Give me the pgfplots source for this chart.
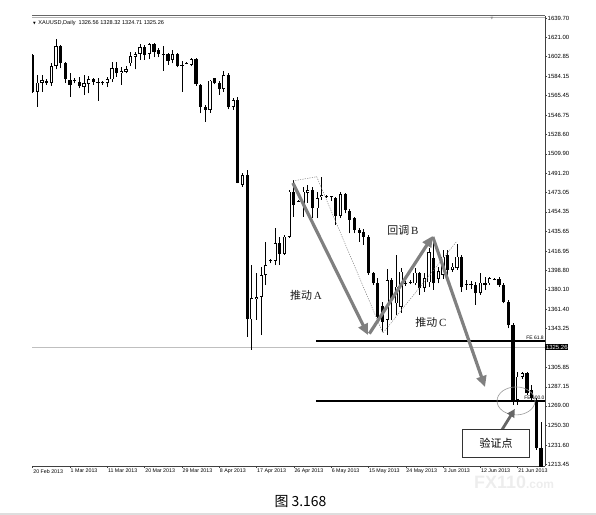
\documentclass[border=0pt]{standalone}
\usepackage{fontspec}
\setmainfont{Liberation Sans}
\newfontfamily\cjk{Noto Sans CJK SC}
\newfontfamily\lserif{Liberation Serif}
\newfontfamily\dejavu{DejaVu Sans}
\usepackage{pgfplots}
\usepackage{pgfplotstable}
\pgfplotsset{compat=1.18}
\usetikzlibrary{arrows.meta}

\definecolor{arrowgray}{HTML}{808080}
\definecolor{axisgray}{HTML}{404040}

% XAUUSD daily candles: bar index, open, high, low, close
\pgfplotstableread{
i o h l c
1 1604.3 1605.0 1568.0 1569.0
2 1569.3 1585.2 1554.9 1577.9
3 1577.9 1585.2 1569.3 1580.4
4 1579.5 1581.1 1575.7 1577.3
5 1577.3 1596.4 1574.7 1593.8
6 1593.8 1619.3 1590.7 1612.9
7 1612.9 1613.9 1591.6 1596.4
8 1596.4 1597.5 1577.9 1581.1
9 1580.4 1586.8 1564.5 1575.7
10 1580.0 1582.0 1577.3 1579.5
11 1578.8 1583.6 1572.5 1574.7
12 1574.0 1585.2 1566.1 1577.3
13 1576.6 1584.3 1567.7 1581.1
14 1581.1 1582.0 1575.7 1578.8
15 1578.4 1582.6 1560.7 1578.2
16 1577.9 1579.8 1575.7 1578.1
17 1577.3 1583.6 1574.0 1581.1
18 1581.1 1597.4 1578.8 1591.6
19 1591.6 1597.9 1583.6 1586.8
20 1586.8 1592.6 1575.7 1589.3
21 1588.4 1593.8 1586.8 1591.0
22 1596.4 1607.5 1593.8 1603.4
23 1602.7 1607.5 1590.7 1605.3
24 1605.3 1614.9 1599.6 1611.7
25 1611.7 1613.9 1599.6 1604.3
26 1605.3 1615.5 1600.2 1614.9
27 1614.9 1615.5 1602.1 1607.5
28 1609.1 1610.7 1602.1 1605.3
29 1605.3 1612.9 1589.3 1605.0
30 1605.3 1606.0 1594.8 1598.9
31 1599.6 1609.1 1596.4 1605.3
32 1605.3 1606.5 1592.6 1593.8
33 1594.8 1598.9 1569.3 1594.4
34 1596.4 1597.5 1595.3 1596.0
35 1594.8 1601.2 1593.8 1600.2
36 1600.2 1601.2 1574.7 1576.6
37 1575.7 1576.6 1548.6 1554.4
38 1554.4 1556.6 1540.6 1551.8
39 1551.8 1580.4 1549.2 1579.8
40 1582.1 1582.6 1576.3 1577.3
41 1577.3 1579.8 1566.1 1571.6
42 1571.6 1589.3 1569.3 1585.2
43 1585.2 1587.4 1552.4 1554.4
44 1554.4 1563.0 1551.8 1561.3
45 1561.3 1564.5 1481.7 1482.3
46 1480.1 1491.3 1478.5 1489.7
47 1489.7 1494.4 1335.1 1351.7
48 1351.7 1403.6 1322.4 1372.1
49 1370.9 1396.0 1351.1 1373.3
50 1373.3 1402.0 1336.7 1394.1
51 1394.1 1425.9 1384.5 1403.6
52 1407.8 1409.1 1405.2 1407.7
53 1407.8 1438.7 1403.6 1424.4
54 1424.4 1430.7 1403.6 1414.2
55 1414.2 1432.3 1413.2 1430.7
56 1430.7 1475.3 1429.2 1473.7
57 1473.7 1484.9 1449.8 1461.0
58 1465.0 1466.0 1464.0 1464.6
59 1461.0 1478.5 1449.8 1473.7
60 1472.7 1480.1 1463.2 1475.2
61 1475.3 1478.5 1448.3 1457.8
62 1457.8 1473.7 1448.3 1467.4
63 1468.9 1488.0 1465.8 1470.5
64 1469.6 1470.5 1468.0 1469.2
65 1469.0 1470.0 1465.0 1468.5
66 1467.4 1468.9 1441.9 1450.5
67 1450.5 1473.7 1448.3 1471.5
68 1471.5 1472.7 1453.0 1456.2
69 1455.5 1456.9 1433.9 1446.7
70 1448.3 1449.8 1433.9 1437.1
71 1437.1 1438.7 1425.9 1434.5
72 1435.5 1437.8 1422.8 1430.7
73 1430.7 1432.3 1394.1 1395.7
74 1395.7 1397.2 1384.5 1386.1
75 1386.7 1390.9 1352.7 1354.2
76 1364.5 1368.6 1339.9 1349.2
77 1351.1 1399.5 1337.0 1389.3
78 1389.3 1391.0 1351.0 1370.2
79 1367.0 1413.0 1356.0 1383.0
80 1363.8 1400.8 1357.8 1397.2
81 1386.0 1388.0 1384.0 1386.5
82 1386.5 1389.0 1385.0 1387.0
83 1386.1 1400.5 1384.5 1396.3
84 1396.3 1397.2 1375.0 1381.4
85 1381.4 1395.7 1378.1 1391.0
86 1387.0 1420.0 1383.0 1416.0
87 1410.0 1425.0 1379.8 1386.1
88 1390.0 1402.0 1386.0 1398.0
89 1394.3 1418.0 1390.0 1411.6
90 1413.0 1418.0 1387.0 1398.9
91 1398.9 1406.0 1397.0 1402.0
92 1400.5 1424.0 1399.0 1411.6
93 1411.6 1413.0 1378.1 1382.3
94 1385.0 1389.0 1380.0 1385.5
95 1385.0 1388.0 1381.0 1384.5
96 1384.5 1387.7 1365.4 1376.6
97 1376.6 1395.7 1375.0 1386.7
98 1386.7 1392.5 1379.8 1384.5
99 1386.1 1392.5 1384.5 1390.9
100 1390.0 1391.0 1389.0 1390.3
101 1390.0 1392.5 1382.9 1384.5
102 1384.5 1386.0 1367.0 1368.6
103 1368.6 1370.2 1343.1 1346.3
104 1346.3 1348.0 1269.9 1274.6
105 1274.6 1301.7 1269.9 1296.9
106 1296.9 1301.7 1295.0 1300.1
107 1300.1 1301.7 1279.4 1281.0
108 1284.2 1289.0 1274.6 1276.2
109 1274.6 1276.2 1226.9 1228.5
110 1228.5 1253.9 1209.3 1210.9
}\candles

\begin{document}
\begin{tikzpicture}
\path[use as bounding box] (0bp,0bp) rectangle (596bp,-515bp);

% watermark
\node[anchor=west, inner sep=0pt, text=black!7] at (474bp,-482bp)
  {\fontsize{18}{18}\selectfont\bfseries FX110\fontsize{12}{12}\selectfont .com};

% top frame lines
\draw[black!60, line width=0.8bp] (32bp,-15bp) -- (545bp,-15bp);
\draw[black!30, line width=0.8bp] (32bp,-17bp) -- (545bp,-17bp);

% header
\node[anchor=west, inner sep=0pt] at (33bp,-23bp)
  {\fontsize{5.6}{6}\selectfont{\dejavu\fontsize{3.5}{4}\selectfont ▼}\, XAUUSD,Daily\ \ 1326.56 1328.32 1324.71 1325.26};
\node[inner sep=0pt, text=black!45] at (492bp,-19bp) {\dejavu\fontsize{3.5}{4}\selectfont ▼};

\begin{axis}[
    at={(32bp,-466bp)}, anchor=south west,
    width=513bp, height=450bp, scale only axis,
    xmin=0.85, xmax=110.86,
    ymin=1211.5, ymax=1641.6,
    axis x line=bottom, axis y line=right,
    axis line style={-, axisgray, line width=0.7bp},
    tick style={axisgray, line width=0.5bp},
    tick align=outside,
    major tick length=2bp,
    clip mode=individual,
    xtick={1,9,17,25,33,41,49,57,65,73,81,89,97,105},
    xticklabels={20 Feb 2013, 1 Mar 2013, 11 Mar 2013, 20 Mar 2013, 29 Mar 2013,
      8 Apr 2013, 17 Apr 2013, 26 Apr 2013, 6 May 2013, 15 May 2013,
      24 May 2013, 3 Jun 2013, 12 Jun 2013, 21 Jun 2013},
    xticklabel style={font=\fontsize{5.3}{6}\selectfont, anchor=north west,
      inner sep=0pt, xshift=0.5bp, yshift=-1bp},
    ytick={1213.45,1231.60,1250.30,1269.00,1287.15,1305.85,1343.25,1361.40,
      1380.10,1398.80,1416.95,1435.65,1454.35,1473.05,1491.20,1509.90,
      1528.60,1546.75,1565.45,1584.15,1602.85,1621.00,1639.70},
    yticklabels={1213.45,1231.60,1250.30,1269.00,1287.15,1305.85,1343.25,1361.40,
      1380.10,1398.80,1416.95,1435.65,1454.35,1473.05,1491.20,1509.90,
      1528.60,1546.75,1565.45,1584.15,1602.85,1621.00,1639.70},
    yticklabel style={font=\fontsize{6}{6}\selectfont, anchor=west,
      inner sep=0pt, xshift=0.5bp},
  ]

  % current price line
  \addplot[black!25, line width=0.7bp, forget plot]
    coordinates {(0.85,1325.26) (110.86,1325.26)};

  % wicks
  \addplot[black, line width=0.8bp, forget plot,
    quiver={u=0, v=\thisrow{h}-\thisrow{l}}]
    table[x=i, y=l] {\candles};
  % bodies (black outline / bearish fill)
  \addplot[black, line width=3.2bp, forget plot,
    quiver={u=0, v={2*max(abs(\thisrow{o}-\thisrow{c})/2,0.45)}}]
    table[x=i, y expr={(\thisrow{o}+\thisrow{c})/2-max(abs(\thisrow{o}-\thisrow{c})/2,0.45)}] {\candles};
  % bullish bodies hollow
  \addplot[white, line width=1.7bp, forget plot,
    quiver={u=0, v={(\thisrow{c}>\thisrow{o})*max(\thisrow{c}-\thisrow{o}-1.5,0)}}]
    table[x=i, y expr={min(\thisrow{o},\thisrow{c})+0.75}] {\candles};

  % Fibonacci expansion levels
  \addplot[black, line width=2bp, forget plot]
    coordinates {(61.75,1331.3) (110.86,1331.3)};
  \addplot[black, line width=2bp, forget plot]
    coordinates {(61.75,1274.0) (110.86,1274.0)};
  \node[anchor=south east, inner sep=0.3bp, yshift=1bp,
    font=\fontsize{5}{5}\selectfont] at (axis cs:110.7,1331.3) {FE 61.8};
  \node[anchor=south east, inner sep=0.3bp, yshift=1bp,
    font=\fontsize{5}{5}\selectfont] at (axis cs:110.86,1274.0) {FE 100.0};

  % current price box
  \node[anchor=west, fill=black, text=white, inner xsep=0.8bp, inner ysep=0.6bp,
    font=\fontsize{6}{6}\selectfont] at (axis cs:110.86,1325.26) {1325.26};

  % dotted construction lines
  \draw[black!50, line width=0.5bp, dash pattern=on 1.2bp off 1.2bp]
    (axis cs:56.8,1483.9) -- (axis cs:61.9,1488.0) -- (axis cs:76.1,1338.6)
    -- (axis cs:92.0,1426.6);

  % wave arrows
  \draw[arrowgray, line width=3.2bp, -{Triangle[length=11bp,width=10bp]}]
    (axis cs:56.8,1482.0) -- (axis cs:72.9,1336.7);
  \draw[arrowgray, line width=3.2bp, -{Triangle[length=11bp,width=10bp]}]
    (axis cs:73.2,1338.0) -- (axis cs:86.8,1431.4);
  \draw[arrowgray, line width=3.2bp, -{Triangle[length=11bp,width=10bp]}]
    (axis cs:86.8,1430.4) -- (axis cs:98.0,1287.0);

  \node[font=\fontsize{11}{13}\selectfont, text=black!90] at (axis cs:59.6,1375.0)
    {{\cjk 推动}\,{\lserif A}};
  \node[font=\fontsize{11}{13}\selectfont, text=black!90] at (axis cs:80.4,1437.1)
    {{\cjk 回调}\,{\lserif B}};
  \node[font=\fontsize{11}{13}\selectfont, text=black!90] at (axis cs:86.4,1349.2)
    {{\cjk 推动}\,{\lserif C}};

  % verification point
  \draw[black!40, line width=0.6bp] (axis cs:104.65,1273.7) ellipse [x radius=19bp, y radius=14bp];
  \draw[black!60, line width=2.8bp, -{Triangle[length=8bp,width=8bp]}]
    (axis cs:101.6,1245.9) -- (axis cs:104.4,1266.0);
  \node[draw=black!80, line width=0.8bp, fill=white, minimum width=66.6bp,
    minimum height=27.7bp, font=\fontsize{11}{13}\selectfont\cjk]
    at (axis cs:100.36,1232.8) {验证点};
\end{axis}

% caption and bottom band
\node[font=\fontsize{14}{15}\selectfont\cjk] at (300.5bp,-501bp) {图 3.168};
\fill[black!13] (0bp,-512.5bp) rectangle (596bp,-515bp);
\end{tikzpicture}
\end{document}
